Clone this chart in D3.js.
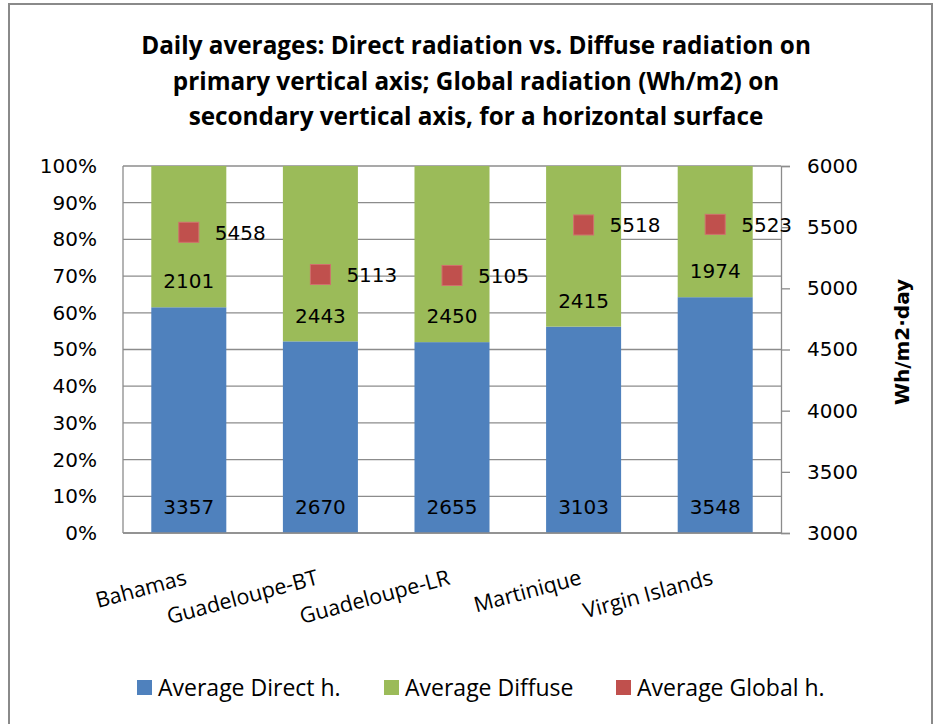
<!DOCTYPE html>
<html>
<head>
<meta charset="utf-8">
<script src="https://cdn.jsdelivr.net/npm/d3@7"></script>
<style>
  html, body { margin: 0; padding: 0; background: #fff; }
  svg { display: block; }
</style>
</head>
<body>
<svg id="chart" width="934" height="724"></svg>
<script>
// Daily averages per site (Wh/m2·day)
const categories = ["Bahamas", "Guadeloupe-BT", "Guadeloupe-LR", "Martinique", "Virgin Islands"];
const directValues = [3357, 2670, 2655, 3103, 3548];
const diffuseValues = [2101, 2443, 2450, 2415, 1974];
const globalValues = [5458, 5113, 5105, 5518, 5523];

const percentTicks = [0, 0.1, 0.2, 0.3, 0.4, 0.5, 0.6, 0.7, 0.8, 0.9, 1];
const globalTicks = [3000, 3500, 4000, 4500, 5000, 5500, 6000];

const seriesNames = ["Average Direct h.", "Average Diffuse", "Average Global h."];
const titleLines = [
  "Daily averages: Direct radiation vs. Diffuse radiation on",
  "primary vertical axis; Global radiation (Wh/m2) on",
  "secondary vertical axis, for a horizontal surface"
];
const rightAxisTitle = "Wh/m2·day";

const colors = { direct: "#4F81BD", diffuse: "#9BBB59", global: "#C0504D" };
const gridColor = "#8c8c8c";

const svg = d3.select("#chart");

// Outer chart frame
svg.append("rect")
  .attr("x", 9).attr("y", 4).attr("width", 923).attr("height", 740)
  .attr("fill", "#fff").attr("stroke", "#8a8a8a").attr("stroke-width", 2);

// Title
const title = svg.append("text")
  .attr("text-anchor", "middle")
  .attr("font-family", "'Open Sans', sans-serif")
  .attr("font-weight", "bold")
  .attr("font-size", 24.3)
  .attr("fill", "#000");
titleLines.forEach((line, i) => {
  title.append("tspan").attr("x", 476).attr("y", 54 + i * 35.5).text(line);
});

// Plot area
const plot = { left: 123, right: 781, top: 166, bottom: 533 };

const x = d3.scaleBand()
  .domain(categories)
  .range([plot.left, plot.right])
  .paddingInner(0.43)
  .paddingOuter(0.215);

const yPct = d3.scaleLinear().domain([0, 1]).range([plot.bottom, plot.top]);
const yGlobal = d3.scaleLinear().domain([3000, 6000]).range([plot.bottom, plot.top]);

// Horizontal gridlines at every 10%
svg.append("g")
  .selectAll("line")
  .data(percentTicks)
  .join("line")
  .attr("x1", plot.left).attr("x2", plot.right)
  .attr("y1", d => yPct(d)).attr("y2", d => yPct(d))
  .attr("stroke", gridColor).attr("stroke-width", 1.3);

// Plot area border (left edge)
svg.append("line")
  .attr("x1", plot.left).attr("x2", plot.left)
  .attr("y1", plot.top).attr("y2", plot.bottom)
  .attr("stroke", gridColor).attr("stroke-width", 1.3);

// Stacked 100% bars
const rows = categories.map((c, i) => ({
  category: c,
  direct: directValues[i],
  diffuse: diffuseValues[i],
  global: globalValues[i],
  total: directValues[i] + diffuseValues[i]
}));

const bars = svg.append("g");
rows.forEach(r => {
  const dirShare = r.direct / r.total;
  bars.append("rect")
    .attr("x", x(r.category)).attr("width", x.bandwidth())
    .attr("y", yPct(dirShare)).attr("height", yPct(0) - yPct(dirShare))
    .attr("fill", colors.direct);
  bars.append("rect")
    .attr("x", x(r.category)).attr("width", x.bandwidth())
    .attr("y", yPct(1)).attr("height", yPct(dirShare) - yPct(1))
    .attr("fill", colors.diffuse);
});

// Right axis (global radiation)
const rightAxis = d3.axisRight(yGlobal)
  .tickValues(globalTicks)
  .tickSize(9)
  .tickPadding(17)
  .tickFormat(d3.format("d"));
const gRight = svg.append("g")
  .attr("transform", `translate(${plot.right},0)`)
  .call(rightAxis);
gRight.select(".domain").attr("stroke", gridColor).attr("stroke-width", 1.3);
gRight.selectAll(".tick line").attr("stroke", gridColor).attr("stroke-width", 1.3);
gRight.selectAll(".tick text")
  .attr("font-family", "'DejaVu Sans', sans-serif")
  .attr("font-size", 20)
  .attr("fill", "#000");

// Left axis (percent)
const leftAxis = d3.axisLeft(yPct)
  .tickValues(percentTicks)
  .tickSize(0)
  .tickPadding(26)
  .tickFormat(d3.format(".0%"));
const gLeft = svg.append("g")
  .attr("transform", `translate(${plot.left},0)`)
  .call(leftAxis);
gLeft.select(".domain").remove();
gLeft.selectAll(".tick text")
  .attr("font-family", "'DejaVu Sans', sans-serif")
  .attr("font-size", 20)
  .attr("fill", "#000");

// Bottom edge of plot area
svg.append("line")
  .attr("x1", plot.left).attr("x2", plot.right)
  .attr("y1", plot.bottom).attr("y2", plot.bottom)
  .attr("stroke", gridColor).attr("stroke-width", 1.3);

// Right axis title
svg.append("text")
  .attr("transform", "translate(909,342) rotate(-90)")
  .attr("text-anchor", "middle")
  .attr("font-family", "'DejaVu Sans', sans-serif")
  .attr("font-weight", "bold")
  .attr("font-size", 20)
  .attr("fill", "#000")
  .text(rightAxisTitle);

// Data labels for the stacked segments, near each segment's base
const labelFont = "'DejaVu Sans', sans-serif";
const labels = svg.append("g")
  .attr("font-family", labelFont)
  .attr("font-size", 20)
  .attr("fill", "#000")
  .attr("text-anchor", "middle");
rows.forEach(r => {
  const cx = x(r.category) + x.bandwidth() / 2;
  const dirShare = r.direct / r.total;
  labels.append("text")
    .attr("x", cx).attr("y", yPct(0) - 26)
    .attr("dy", "0.36em")
    .text(r.direct);
  labels.append("text")
    .attr("x", cx).attr("y", yPct(dirShare) - 26)
    .attr("dy", "0.36em")
    .text(r.diffuse);
});

// Global radiation markers with labels on the secondary axis
const markerSize = 20;
const markers = svg.append("g");
rows.forEach(r => {
  const cx = x(r.category) + x.bandwidth() / 2;
  const cy = yGlobal(r.global);
  markers.append("rect")
    .attr("x", cx - markerSize / 2).attr("y", cy - markerSize / 2)
    .attr("width", markerSize).attr("height", markerSize)
    .attr("fill", colors.global)
    .attr("stroke", "#d0716e").attr("stroke-width", 1);
  markers.append("text")
    .attr("x", cx + 26).attr("y", cy)
    .attr("dy", "0.36em")
    .attr("font-family", labelFont)
    .attr("font-size", 20)
    .attr("fill", "#000")
    .text(r.global);
});

// Category labels, rotated
svg.append("g")
  .selectAll("text")
  .data(categories)
  .join("text")
  .attr("transform", d => `translate(${x(d) + x.bandwidth() / 2 - 1},584) rotate(-15)`)
  .attr("text-anchor", "end")
  .attr("font-family", "'Open Sans', sans-serif")
  .attr("font-size", 21.5)
  .attr("fill", "#000")
  .text(d => d);

// Legend
const legendItems = [
  { name: seriesNames[0], color: colors.direct, x: 137 },
  { name: seriesNames[1], color: colors.diffuse, x: 384 },
  { name: seriesNames[2], color: colors.global, x: 616 }
];
const legend = svg.append("g");
legendItems.forEach(item => {
  legend.append("rect")
    .attr("x", item.x).attr("y", 680)
    .attr("width", 15).attr("height", 15)
    .attr("fill", item.color);
  legend.append("text")
    .attr("x", item.x + 21).attr("y", 688)
    .attr("dy", "0.36em")
    .attr("font-family", "'Open Sans', sans-serif")
    .attr("font-size", 23)
    .attr("fill", "#000")
    .text(item.name);
});
</script>
</body>
</html>
